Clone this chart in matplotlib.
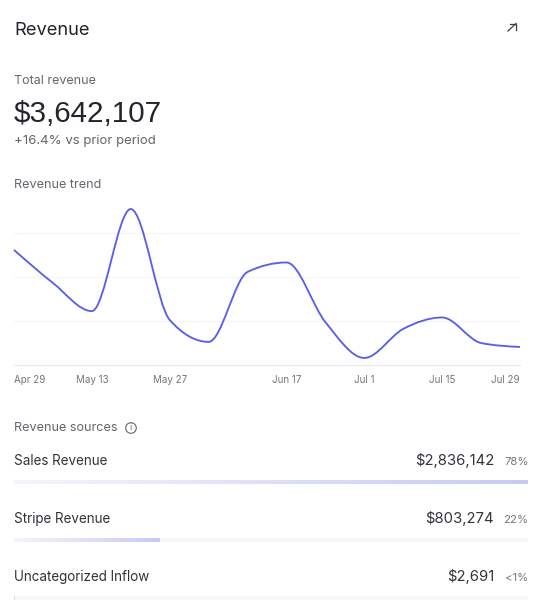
import matplotlib
matplotlib.use('Agg')
import matplotlib.pyplot as plt
import numpy as np
from matplotlib.path import Path
from matplotlib.patches import PathPatch, Circle

plt.rcParams['font.family'] = ['Inter', 'DejaVu Sans']

# weekly revenue, Apr 29 to Jul 29
days = [0, 7, 14, 21, 28, 35, 42, 49, 56, 63, 70, 77, 84, 91]
revenue = [523000, 373000, 245000, 709000, 205000, 105000, 423000,
           466000, 195000, 32000, 164000, 216000, 100000, 82000]
tick_days = [0, 14, 28, 49, 63, 77, 91]
tick_labels = ['Apr 29', 'May 13', 'May 27', 'Jun 17', 'Jul 1', 'Jul 15', 'Jul 29']
grid_values = [200000, 400000, 600000]

sources = ['Sales Revenue', 'Stripe Revenue', 'Uncategorized Inflow']
amounts = [2836142, 803274, 2691]
amount_labels = ['$2,836,142', '$803,274', '$2,691']
share_labels = ['78%', '22%', '<1%']

W, H = 547, 616
DARK = '#24242c'
GREY = '#65656f'
LINE = '#5a60e6'


def monotone_path(x, y):
    # same tangents as a monotone cubic, drawn as bezier segments
    x, y = np.asarray(x, float), np.asarray(y, float)
    h = np.diff(x)
    s = np.diff(y) / h
    t = np.zeros(len(x))
    for i in range(1, len(x) - 1):
        if s[i - 1] * s[i] > 0:
            p = (s[i - 1] * h[i] + s[i] * h[i - 1]) / (h[i - 1] + h[i])
            t[i] = np.sign(s[i]) * min(abs(s[i - 1]), abs(s[i]), 0.5 * abs(p)) * 2
    t[0] = (3 * s[0] - t[1]) / 2
    t[-1] = (3 * s[-1] - t[-2]) / 2
    verts = [(x[0], y[0])]
    codes = [Path.MOVETO]
    for i in range(len(h)):
        verts += [(x[i] + h[i] / 3, y[i] + t[i] * h[i] / 3),
                  (x[i + 1] - h[i] / 3, y[i + 1] - t[i + 1] * h[i] / 3),
                  (x[i + 1], y[i + 1])]
        codes += [Path.CURVE4] * 3
    return Path(verts, codes)


def add_axes_px(left, top, right, bottom):
    return fig.add_axes([left / W, 1 - bottom / H, (right - left) / W, (bottom - top) / H])


def put(x, y, s, size, color=GREY, ha='left', **kw):
    fig.text(x / W, 1 - y / H, s, fontsize=size, color=color, ha=ha, va='baseline', **kw)


fig = plt.figure(figsize=(W / 100, H / 100), dpi=100, facecolor='white')

# header
put(14, 35, 'Revenue', 13.2, DARK)
put(14, 84, 'Total revenue', 9, GREY)
put(14, 122, '$3,642,107', 21.3, DARK, family=['Liberation Sans', 'DejaVu Sans'])
put(14, 144, '+16.4% vs prior period', 9.5, GREY)
put(14, 188, 'Revenue trend', 9.1, GREY)

# arrow icon in the corner
icon = add_axes_px(0, 0, W, H)
icon.set_xlim(0, W)
icon.set_ylim(H, 0)
icon.axis('off')
icon.plot([508, 516], [31, 23.5], color='#3c3c44', lw=0.9)
icon.plot([509.5, 516, 516], [23.5, 23.5, 30], color='#3c3c44', lw=0.9)

# trend chart
ax = add_axes_px(14, 200, 520, 365)
ax.set_xlim(days[0], days[-1])
ax.set_ylim(0, 750000)
for g in grid_values:
    ax.axhline(g, color='#f6f6fa', lw=1, zorder=1)
ax.add_patch(PathPatch(monotone_path(days, revenue), fill=False, edgecolor=LINE,
                       lw=1.35, zorder=3, clip_on=False))
for side in ['top', 'right', 'left']:
    ax.spines[side].set_visible(False)
ax.spines['bottom'].set_color('#e8e8f0')
ax.set_yticks([])
ax.set_xticks(tick_days)
ax.set_xticklabels(tick_labels, fontsize=7.1, color='#75757f')
ax.tick_params(axis='x', length=0, pad=7)
ax.get_xticklabels()[0].set_ha('left')
ax.get_xticklabels()[-1].set_ha('right')

# revenue sources
put(14, 431, 'Revenue sources', 9.1, GREY)
icon.add_patch(Circle((131, 428), 5.3, fill=False, edgecolor='#65656f', lw=0.8))
icon.text(131, 428, 'i', fontsize=6.5, color='#65656f', ha='center', va='center')

gradient = np.linspace(0, 1, 256).reshape(1, -1)
cmap = matplotlib.colors.LinearSegmentedColormap.from_list('bar', ['#f5f5fb', '#c8caf3'])
for i, src in enumerate(sources):
    row = 58 * i
    put(14, 465 + row, src, 9.7, '#33333b')
    put(494, 465 + row, amount_labels[i], 10.7, '#33333b', ha='right')
    put(528.5, 465 + row, share_labels[i], 8.2, '#75757f', ha='right')
    bar = add_axes_px(14, 480 + row, 528, 484 + row)
    bar.set_xlim(0, max(amounts))
    bar.set_ylim(0, 1)
    bar.axis('off')
    bar.barh(0.5, max(amounts), height=1, color='#f6f6fb', zorder=1)
    bar.imshow(gradient, extent=(0, amounts[i], 0, 1), aspect='auto', cmap=cmap, zorder=2)
    bar.set_xlim(0, max(amounts))
    bar.set_ylim(0, 1)

fig.savefig('out.png', dpi=100)
